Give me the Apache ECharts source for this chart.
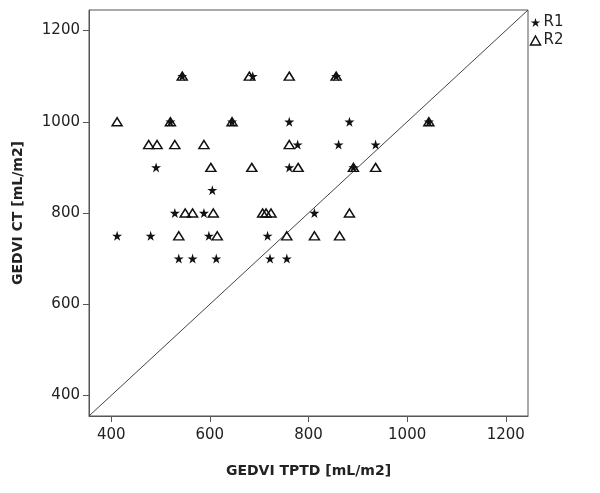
<!DOCTYPE html>
<html>
<head>
<meta charset="utf-8">
<script src="https://cdn.jsdelivr.net/npm/echarts@6/dist/echarts.min.js"></script>
<style>
  html, body { margin: 0; padding: 0; background: #fff; }
  #chart { width: 600px; height: 493px; }
</style>
</head>
<body>
<div id="chart"></div>
<script>
// GEDVI TPTD (x) vs GEDVI CT (y), mL/m2
var r1 = [
    [687, 1100], [544, 1100], [856, 1100],
    [520, 1000], [645, 1000], [761, 1000], [883, 1000], [1044, 1000],
    [778, 950], [861, 950], [936, 950],
    [491, 900], [761, 900], [891, 900],
    [605, 850],
    [529, 800], [588, 800], [812, 800],
    [412, 750], [480, 750], [598, 750], [717, 750],
    [537, 700], [565, 700], [613, 700], [722, 700], [756, 700]
]
var r2 = [
    [544, 1100], [680, 1100], [761, 1100], [856, 1100],
    [412, 1000], [520, 1000], [645, 1000], [1044, 1000],
    [476, 950], [493, 950], [529, 950], [588, 950], [761, 950],
    [602, 900], [685, 900], [779, 900], [891, 900], [936, 900],
    [550, 800], [565, 800], [607, 800], [707, 800], [714, 800], [724, 800], [883, 800],
    [537, 750], [615, 750], [756, 750], [812, 750], [863, 750]
]
var axisMin = 355
var axisMax = 1245
var tickValues = [400, 600, 800, 1000, 1200]
var identity = [[axisMin, axisMin], [axisMax, axisMax]]

// five pointed star outline
function starPath() {
    var pts = []
    for (var i = 0; i < 10; i++) {
        var a = -Math.PI / 2 + i * Math.PI / 5
        var r = i % 2 == 0 ? 10 : 3.8
        pts.push((10 + r * Math.cos(a)).toFixed(2) + ' ' + (10 + r * Math.sin(a)).toFixed(2))
    }
    return 'path://M' + pts.join(' L') + ' Z'
}
var star = starPath()

var chart = echarts.init(document.getElementById('chart'))

var axisCommon = {
    type: 'value',
    min: axisMin,
    max: axisMax,
    nameLocation: 'middle',
    nameTextStyle: { fontFamily: 'DejaVu Sans', fontWeight: 'bold', fontSize: 14, color: '#222' },
    axisLine: { show: true, lineStyle: { color: '#555', width: 1 } },
    axisTick: { show: true, inside: false, length: 6, customValues: tickValues, lineStyle: { color: '#555' } },
    axisLabel: {
        customValues: tickValues,
        formatter: function(v) { return String(v) },
        fontFamily: 'DejaVu Sans', fontSize: 15, color: '#222'
    },
    splitLine: { show: false }
}

var option = {
    animation: false,
    grid: {
        left: 89, top: 10, right: 72, bottom: 77,
        show: true, borderColor: '#555', borderWidth: 1
    },
    legend: {
        orient: 'vertical',
        left: 528,
        top: 15,
        padding: 0,
        itemWidth: 10,
        itemHeight: 9,
        itemGap: 3,
        textStyle: { fontFamily: 'DejaVu Sans', fontSize: 15, color: '#222', padding: [0, 0, 0, -2] },
        data: [
            { name: 'R1', icon: star, itemStyle: { color: '#111' } },
            { name: 'R2', icon: 'triangle', itemStyle: { color: 'none', borderColor: '#111', borderWidth: 1.5 } }
        ]
    },
    xAxis: Object.assign({}, axisCommon, {
        name: 'GEDVI TPTD [mL/m2]',
        nameGap: 48,
        axisLabel: Object.assign({}, axisCommon.axisLabel, { margin: 12 })
    }),
    yAxis: Object.assign({}, axisCommon, {
        name: 'GEDVI CT [mL/m2]',
        nameGap: 64,
        axisLabel: Object.assign({}, axisCommon.axisLabel, { margin: 9 })
    }),
    series: [{
        type: 'line',
        data: identity,
        showSymbol: false,
        silent: true,
        lineStyle: { color: '#444', width: 1 },
        z: 1
    }, {
        name: 'R1',
        type: 'scatter',
        data: r1,
        symbol: star,
        symbolSize: 10,
        itemStyle: { color: '#111', opacity: 1 },
        z: 3
    }, {
        name: 'R2',
        type: 'scatter',
        data: r2,
        symbol: 'triangle',
        symbolSize: [10, 8],
        itemStyle: { color: 'none', borderColor: '#111', borderWidth: 1.5, opacity: 1 },
        z: 2
    }]
}

chart.setOption(option)
</script>
</body>
</html>
